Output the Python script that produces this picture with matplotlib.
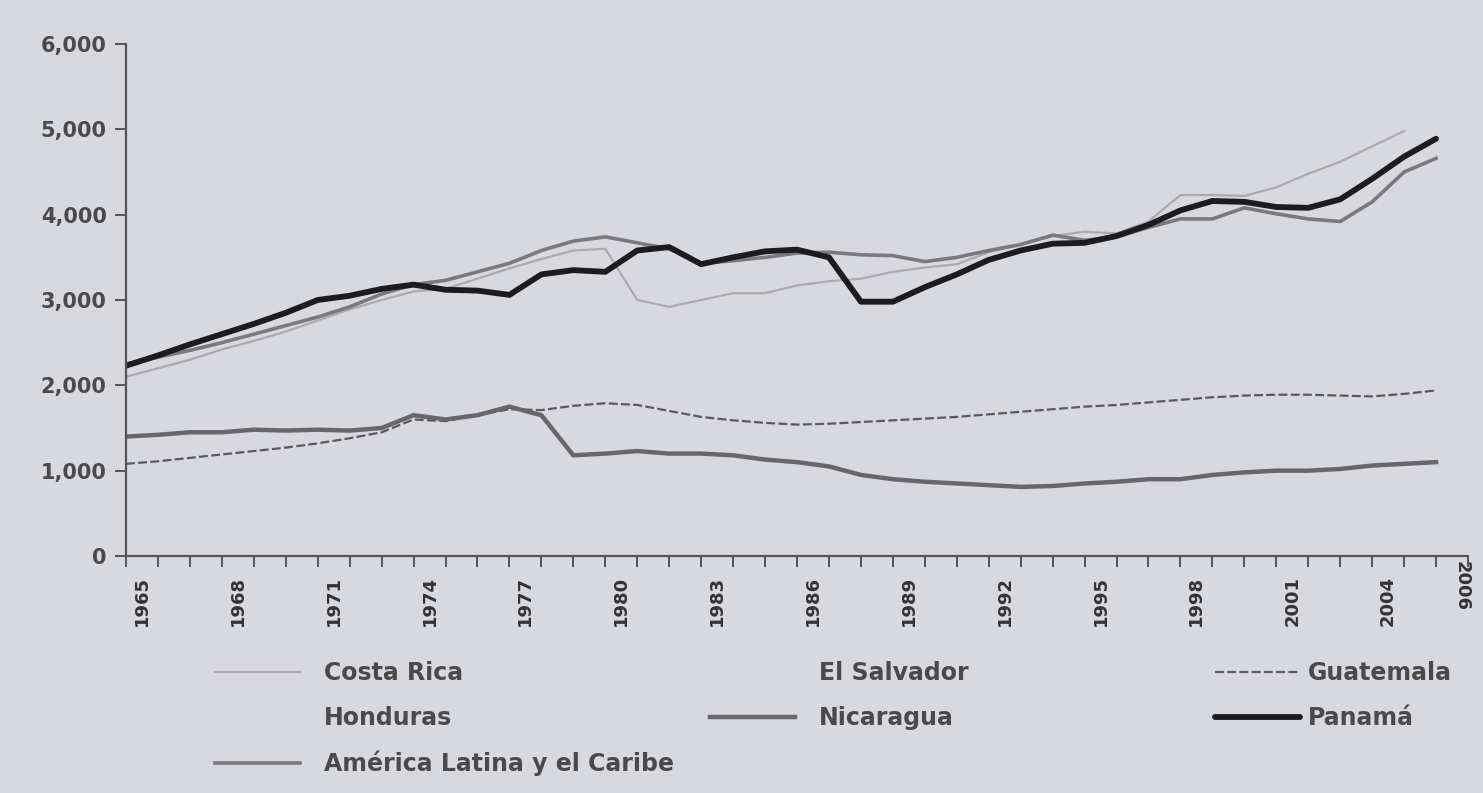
import numpy as np
import matplotlib
matplotlib.use("Agg")
import matplotlib.pyplot as plt
from matplotlib.lines import Line2D

# PIB por habitante, 1965-2006
years = list(range(1965, 2007))

panama = [2230, 2350, 2480, 2600, 2720, 2850, 3000, 3050, 3130, 3180,
          3120, 3110, 3060, 3300, 3350, 3330, 3580, 3620, 3420, 3500,
          3570, 3590, 3500, 2980, 2980, 3150, 3300, 3470, 3580, 3660,
          3670, 3750, 3880, 4050, 4160, 4150, 4090, 4080, 4180, 4420,
          4680, 4890]

costa_rica = [2100, 2200, 2300, 2420, 2520, 2630, 2760, 2890, 3000, 3100,
              3130, 3250, 3370, 3480, 3580, 3600, 3000, 2920, 3000, 3080,
              3080, 3170, 3220, 3250, 3330, 3380, 3420, 3560, 3650, 3750,
              3800, 3780, 3920, 4230, 4230, 4220, 4320, 4480, 4620, 4800,
              4980, np.nan]

alc = [2250, 2330, 2410, 2500, 2600, 2700, 2800, 2920, 3070, 3180,
       3230, 3330, 3430, 3580, 3690, 3740, 3670, 3600, 3430, 3460,
       3500, 3550, 3560, 3530, 3520, 3450, 3500, 3580, 3650, 3760,
       3700, 3740, 3850, 3950, 3950, 4080, 4010, 3950, 3920, 4150,
       4500, 4660]

nicaragua = [1400, 1420, 1450, 1450, 1480, 1470, 1480, 1470, 1500, 1650,
             1600, 1650, 1750, 1650, 1180, 1200, 1230, 1200, 1200, 1180,
             1130, 1100, 1050, 950, 900, 870, 850, 830, 810, 820,
             850, 870, 900, 900, 950, 980, 1000, 1000, 1020, 1060,
             1080, 1100]

guatemala = [1080, 1110, 1150, 1190, 1230, 1270, 1320, 1380, 1450, 1600,
             1580, 1650, 1720, 1710, 1760, 1790, 1770, 1700, 1630, 1590,
             1560, 1540, 1550, 1570, 1590, 1610, 1630, 1660, 1690, 1720,
             1750, 1770, 1800, 1830, 1860, 1880, 1890, 1890, 1880, 1870,
             1900, 1940]

yticks = [0, 1000, 2000, 3000, 4000, 5000, 6000]
ytick_labels = ["0", "1,000", "2,000", "3,000", "4,000", "5,000", "6,000"]
xlabel_years = list(range(1965, 2005, 3))

bg = "#d8d9de"
txt = "#4a4a4a"
plt.rcParams['font.family'] = ['Liberation Sans Narrow', 'DejaVu Sans']

fig = plt.figure(figsize=(14.83, 7.93), dpi=100, facecolor=bg)
ax = fig.add_axes([126/1483, 1-556/793, (1468-126)/1483, (556-44)/793])
ax.set_facecolor(bg)

l_cr, = ax.plot(years, costa_rica, color="#ababaf", lw=1.6, label="Costa Rica")
l_gt, = ax.plot(years, guatemala, color="#5a5a5e", lw=1.6, ls=(0, (4, 1.5)), label="Guatemala")
l_ni, = ax.plot(years, nicaragua, color="#67676b", lw=3.2, label="Nicaragua")
l_alc, = ax.plot(years, alc, color="#7a7a7e", lw=2.6, label="América Latina y el Caribe")
l_pa, = ax.plot(years, panama, color="#1c1c1e", lw=4.2, label="Panamá",
                solid_capstyle="round")

ax.set_xlim(1965, 2007)
ax.set_ylim(0, 6000)
ax.set_yticks(yticks)
ax.set_yticklabels(ytick_labels, fontsize=15, color=txt, fontweight="bold")
ax.set_xticks(range(1965, 2008))
ax.set_xticklabels([])
for y in xlabel_years:
    ax.text(y + 0.5, -230, str(y), rotation=90, ha="center", va="top",
            fontsize=13, color="#333333", fontweight="bold")
ax.text(2006.8, -60, "2006", rotation=-90, ha="center", va="top",
        fontsize=13, color="#333333", fontweight="bold")

for s in ["top", "right"]:
    ax.spines[s].set_visible(False)
for s in ["left", "bottom"]:
    ax.spines[s].set_color("#555555")
    ax.spines[s].set_linewidth(1.6)
ax.tick_params(axis="both", direction="out", length=8, width=1.4, color="#555555")
ax.tick_params(axis="y", pad=6)

# leyenda en tres columnas
blank = Line2D([], [], color="none")
cols = [
    ([l_cr, blank, l_alc], ["Costa Rica", "Honduras", "América Latina y el Caribe"], 215, 1.0),
    ([blank, l_ni], ["El Salvador", "Nicaragua"], 710, 1.0),
    ([l_gt, l_pa], ["Guatemala", "Panamá"], 1215, 0.35),
]
for hs, labs, xpx, tpad in cols:
    fig.legend(hs, labs, loc="upper left", bbox_to_anchor=(xpx/1483, 1-661/793),
               frameon=False, handlelength=3.6, handletextpad=tpad,
               labelspacing=0.88, borderpad=0, borderaxespad=0, labelcolor=txt,
               prop={"weight": "bold", "size": 17})

fig.savefig("out.png", dpi=100, facecolor=bg)
